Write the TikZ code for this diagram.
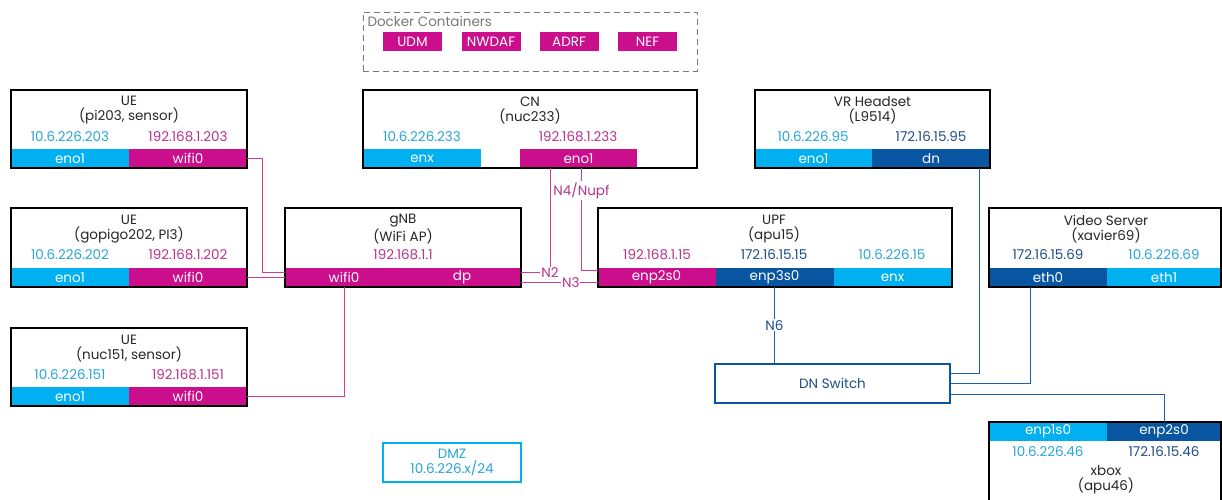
\documentclass[tikz,border=0pt]{standalone}
\usepackage{fontspec}
\setmainfont{Poppins}
\usepackage{xcolor}
\definecolor{mgmtCyan}{RGB}{0,176,240}
\definecolor{wifiMagenta}{RGB}{202,14,140}
\definecolor{dnBlue}{RGB}{8,86,162}
\definecolor{ipCyan}{RGB}{40,165,215}
\definecolor{ipMagenta}{RGB}{185,50,140}
\definecolor{ipBlue}{RGB}{30,75,140}
\definecolor{wireMagenta}{RGB}{210,60,150}
\definecolor{wireBlue}{RGB}{30,95,165}
\definecolor{dockerGray}{RGB}{120,120,120}

\begin{document}
\begin{tikzpicture}[x=1pt, y=-1pt, font=\fontsize{13.5}{15}\selectfont]
            % Styles
            \tikzstyle{host} = [rectangle, draw=black, line width=1.1pt, inner sep=0pt]
            \tikzstyle{title} = [align=center, text=black!85]
            \tikzstyle{port} = [rectangle, minimum width=118pt, minimum height=19pt, inner sep=0pt, outer sep=0pt, text=white]
            \tikzstyle{eno} = [port, fill=mgmtCyan]
            \tikzstyle{wifi} = [port, fill=wifiMagenta]
            \tikzstyle{dn} = [port, fill=dnBlue]
            \tikzstyle{container} = [rectangle, fill=wifiMagenta, text=white, minimum width=59pt, minimum height=19pt, inner sep=0pt]
            \tikzstyle{wire} = [wireMagenta, line width=0.9pt]
            \tikzstyle{link} = [wireBlue, line width=0.9pt]
            \tikzstyle{lbl} = [fill=white, inner sep=1pt]
            \useasboundingbox (0,0) rectangle (1222,500);

            % Docker containers
            \node[rectangle, draw=dockerGray, dash pattern=on 6pt off 4pt, line width=0.8pt, minimum width=334pt, minimum height=59pt] (docker) at (530,41.5) {};
            \node[anchor=west, text=dockerGray] (dockerlbl) at (364,21) {Docker Containers};
            \node[container] (udm) at (412.5,41.5) {UDM};
            \node[container] (nwdaf) at (491,41.5) {NWDAF};
            \node[container] (adrf) at (569,41.5) {ADRF};
            \node[container] (nef) at (647.5,41.5) {NEF};

            % UE (pi203)
            \node[eno] (ue1eno) at (70,158.5) {eno1};
            \node[wifi] (ue1wifi) at (188,158.5) {wifi0};
            \node[host, minimum width=236pt, minimum height=78pt] (ue1) at (129,129) {};
            \node[title] (ue1t) at (129,110.5) {UE\\(pi203, sensor)};
            \node[text=ipCyan] (ue1ipa) at (70,137) {10.6.226.203};
            \node[text=ipMagenta] (ue1ipb) at (188,137) {192.168.1.203};

            % UE (gopigo202)
            \node[eno] (ue2eno) at (70,277.5) {eno1};
            \node[wifi] (ue2wifi) at (188,277.5) {wifi0};
            \node[host, minimum width=236pt, minimum height=79pt] (ue2) at (129,247.5) {};
            \node[title] (ue2t) at (129,229) {UE\\(gopigo202, PI3)};
            \node[text=ipCyan] (ue2ipa) at (70,255) {10.6.226.202};
            \node[text=ipMagenta] (ue2ipb) at (188,255) {192.168.1.202};

            % UE (nuc151)
            \node[eno] (ue3eno) at (70,396.5) {eno1};
            \node[wifi] (ue3wifi) at (188,396.5) {wifi0};
            \node[host, minimum width=236pt, minimum height=78pt] (ue3) at (129,367) {};
            \node[title] (ue3t) at (129,348.5) {UE\\(nuc151, sensor)};
            \node[text=ipCyan] (ue3ipa) at (70,375) {10.6.226.151};
            \node[text=ipMagenta] (ue3ipb) at (188,375) {192.168.1.151};

            % gNB
            \node[wifi] (gnbwifi) at (344,277.5) {wifi0};
            \node[wifi] (gnbdp) at (462,277.5) {dp};
            \node[host, minimum width=236pt, minimum height=79pt] (gnb) at (403,247.5) {};
            \node[title] (gnbt) at (403,229) {gNB\\(WiFi AP)};
            \node[text=ipMagenta] (gnbip) at (403,255) {192.168.1.1};

            % CN
            \node[eno] (cnenx) at (422,158.5) {enx};
            \node[wifi, minimum width=117pt] (cneno) at (578.5,158.5) {eno1};
            \node[host, minimum width=334pt, minimum height=78pt] (cn) at (530,129) {};
            \node[title] (cnt) at (530,110.5) {CN\\(nuc233)};
            \node[text=ipCyan] (cnipa) at (422,137) {10.6.226.233};
            \node[text=ipMagenta] (cnipb) at (578,137) {192.168.1.233};

            % VR Headset
            \node[eno, minimum width=117pt] (vreno) at (813.5,158.5) {eno1};
            \node[dn] (vrdn) at (931,158.5) {dn};
            \node[host, minimum width=235pt, minimum height=78pt] (vr) at (872.5,129) {};
            \node[title] (vrt) at (872.5,110.5) {VR Headset\\(L9514)};
            \node[text=ipCyan] (vripa) at (813,137) {10.6.226.95};
            \node[text=ipBlue] (vripb) at (931,137) {172.16.15.95};

            % UPF
            \node[wifi] (upf2) at (656.5,277.5) {enp2s0};
            \node[dn] (upf3) at (774.5,277.5) {enp3s0};
            \node[eno] (upfenx) at (892.5,277.5) {enx};
            \node[host, minimum width=354pt, minimum height=79pt] (upf) at (775,247.5) {};
            \node[title] (upft) at (774,229) {UPF\\(apu15)};
            \node[text=ipMagenta] (upfipa) at (657,255) {192.168.1.15};
            \node[text=ipBlue] (upfipb) at (774,255) {172.16.15.15};
            \node[text=ipCyan] (upfipc) at (892,255) {10.6.226.15};

            % Video Server
            \node[dn] (vseth0) at (1048,277.5) {eth0};
            \node[eno, minimum width=114pt] (vseth1) at (1164,277.5) {eth1};
            \node[host, minimum width=232pt, minimum height=79pt] (vs) at (1105,247.5) {};
            \node[title] (vst) at (1106,229) {Video Server\\(xavier69)};
            \node[text=ipBlue] (vsipa) at (1048,255) {172.16.15.69};
            \node[text=ipCyan] (vsipb) at (1164,255) {10.6.226.69};

            % xbox
            \node[eno] (xenp1) at (1048,431.5) {enp1s0};
            \node[dn, minimum width=114pt] (xenp2) at (1164,431.5) {enp2s0};
            \node[host, minimum width=232pt, minimum height=90pt] (xbox) at (1105,467) {};
            \node[text=ipCyan] (xipa) at (1048,452) {10.6.226.46};
            \node[text=ipBlue] (xipb) at (1164,452) {172.16.15.46};
            \node[title] (xt) at (1106,479.5) {xbox\\(apu46)};

            % DN Switch and DMZ
            \node[rectangle, draw=dnBlue, line width=1.1pt, text=ipBlue, minimum width=235pt, minimum height=39pt] (dnsw) at (832.5,383.5) {DN Switch};
            \node[rectangle, draw=mgmtCyan, line width=1.1pt, text=ipCyan, align=center, minimum width=138pt, minimum height=39pt] (dmz) at (452,462.5) {DMZ\\10.6.226.x/24};

            % Wires
            \draw[wire] (ue1wifi.east) -| ([xshift=-23pt, yshift=5pt]gnbwifi.west) -- ([yshift=5pt]gnbwifi.west);
            \draw[wire] (ue2wifi.east) -- (gnbwifi.west);
            \draw[wire] (ue3wifi.east) -| (gnbwifi.south);
            \draw[wire] ([xshift=-28.5pt]cneno.south) |- ([yshift=5pt]gnbdp.east) node[lbl, pos=0.5, text=ipMagenta] {N2};
            \draw[wire] ([xshift=3pt]cneno.south) |- ([yshift=7pt]upf2.west) node[lbl, pos=0.11, text=ipMagenta] {N4/Nupf};
            \draw[wire] ([yshift=-5pt]gnbdp.east) -- ([yshift=-5pt]upf2.west) node[lbl, pos=0.65, text=ipMagenta] {N3};
            \draw[link] (upf3.south) -- (upf3.south |- dnsw.north) node[lbl, midway, text=ipBlue] {N6};
            \draw[link] ([xshift=48pt]vrdn.south) |- ([yshift=10.5pt]dnsw.east);
            \draw[link] ([xshift=-18pt]vseth0.south) |- (dnsw.east);
            \draw[link] (xenp2.north) |- ([yshift=-10.5pt]dnsw.east);
\end{tikzpicture}
\end{document}
